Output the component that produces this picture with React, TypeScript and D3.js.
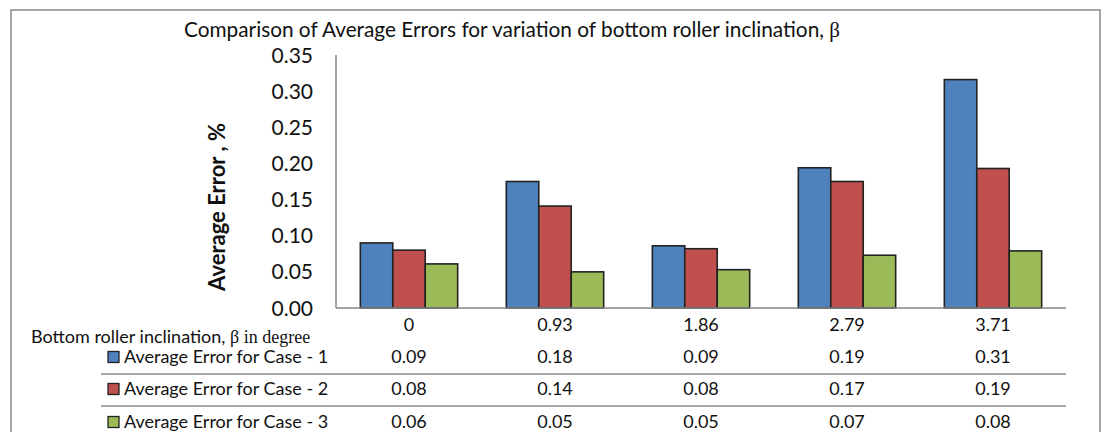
import React from "react";
import * as d3 from "d3";

// categories: bottom roller inclination, beta (degree)
const categories = ["0", "0.93", "1.86", "2.79", "3.71"];

// bar heights
const case1 = [0.09, 0.175, 0.086, 0.194, 0.316];
const case2 = [0.08, 0.141, 0.082, 0.175, 0.193];
const case3 = [0.061, 0.05, 0.053, 0.073, 0.079];

// values printed in the data table
const case1Labels = ["0.09", "0.18", "0.09", "0.19", "0.31"];
const case2Labels = ["0.08", "0.14", "0.08", "0.17", "0.19"];
const case3Labels = ["0.06", "0.05", "0.05", "0.07", "0.08"];

const seriesNames = ["Average Error for Case - 1", "Average Error for Case - 2", "Average Error for Case - 3"];
const seriesColors = ["#4F81BD", "#C0504D", "#9BBB59"];
const yTicks = [0, 0.05, 0.1, 0.15, 0.2, 0.25, 0.3, 0.35];

const W = 1106;
const H = 432;
const SANS = "Lato, 'Open Sans', sans-serif";
const SERIF = "'Liberation Serif', 'DejaVu Serif', serif";

const App: React.FC = () => {
  const series = [case1, case2, case3];
  const labels = [case1Labels, case2Labels, case3Labels];

  const x = d3.scaleBand<string>().domain(categories).range([336, 1066]);
  const xs = d3.scaleBand<number>().domain([0, 1, 2]).range([0, x.bandwidth()]).paddingInner(0).paddingOuter(0.75);
  const y = d3.scaleLinear().domain([0, 0.35]).range([308, 55]);
  const fmt = d3.format(".2f");

  const rowY = [357, 389, 422];
  const lineY = [374, 406];

  return (
    <div style={{ position: "absolute", left: 0, top: 0 }}>
      <svg width={W} height={H} style={{ display: "block", background: "#fff" }}>
        {/* outer frame */}
        <rect x={11} y={10} width={1089} height={440} fill="none" stroke="#888" strokeWidth={1.5} />

        {/* title */}
        <text x={184} y={37} fontFamily={SANS} fontSize={20.8} fill="#111">
          Comparison of Average Errors for variation of bottom roller inclination,{" "}
          <tspan fontFamily={SERIF} fontSize={21}>β</tspan>
        </text>

        {/* y tick labels */}
        {yTicks.map((t) => (
          <text key={t} x={313} y={y(t)} dy="0.36em" textAnchor="end" fontFamily={SANS} fontSize={21} fill="#111">
            {fmt(t)}
          </text>
        ))}

        {/* y title */}
        <text
          transform={`translate(225,207) rotate(-90)`}
          textAnchor="middle"
          fontFamily={SANS}
          fontWeight="bold"
          fontSize={22}
          fill="#111"
        >
          Average Error , %
        </text>

        {/* bars */}
        {categories.map((c, i) => (
          <g key={c} transform={`translate(${x(c)},0)`}>
            {series.map((s, k) => (
              <rect
                key={k}
                x={xs(k)}
                y={y(s[i])}
                width={xs.bandwidth()}
                height={y(0) - y(s[i])}
                fill={seriesColors[k]}
                stroke="#222"
                strokeWidth={1.6}
              />
            ))}
          </g>
        ))}

        {/* axes */}
        <line x1={336} x2={336} y1={y(0.35)} y2={y(0)} stroke="#868686" strokeWidth={1.5} />
        <line x1={336} x2={1066} y1={y(0)} y2={y(0)} stroke="#868686" strokeWidth={1.5} />

        {/* data table header row */}
        <text x={31} y={337} dy="0.35em" fontFamily={SANS} fontSize={18} fill="#111">
          Bottom roller inclination, <tspan fontFamily={SERIF} fontSize={18}>β in degree</tspan>
        </text>
        {categories.map((c) => (
          <text key={c} x={(x(c) as number) + x.bandwidth() / 2} y={325} dy="0.35em" textAnchor="middle" fontFamily={SANS} fontSize={18} fill="#111">
            {c}
          </text>
        ))}

        {/* data table series rows */}
        {seriesNames.map((name, k) => (
          <g key={name}>
            <rect x={108} y={rowY[k] - 5.5} width={11} height={11} fill={seriesColors[k]} stroke="#222" strokeWidth={1.3} />
            <text x={124} y={rowY[k]} dy="0.35em" fontFamily={SANS} fontSize={18} fill="#111">
              {name}
            </text>
            {categories.map((c, i) => (
              <text key={c} x={(x(c) as number) + x.bandwidth() / 2} y={rowY[k]} dy="0.35em" textAnchor="middle" fontFamily={SANS} fontSize={18} fill="#111">
                {labels[k][i]}
              </text>
            ))}
          </g>
        ))}
        {lineY.map((ly) => (
          <line key={ly} x1={101} x2={1066} y1={ly} y2={ly} stroke="#888" strokeWidth={1.5} />
        ))}
      </svg>
    </div>
  );
};

export default App;
